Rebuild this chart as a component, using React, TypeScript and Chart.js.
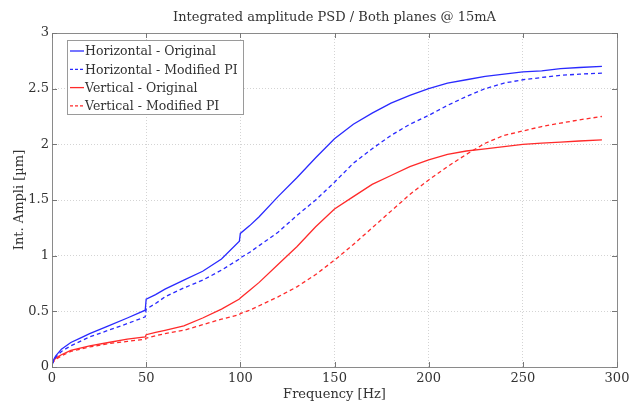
import React, { useEffect, useRef } from "react";
import { Chart, registerables } from "chart.js";

Chart.register(...registerables);

const TITLE = "Integrated amplitude PSD / Both planes @ 15mA";
const X_TITLE = "Frequency [Hz]";
const Y_TITLE = "Int. Ampli [µm]";

const labels = [
  "Horizontal - Original",
  "Horizontal - Modified PI",
  "Vertical - Original",
  "Vertical - Modified PI",
];

const freq = [
  0, 1, 2, 5, 10, 15, 20, 30, 40, 49.5, 50, 55, 60, 70, 80, 90, 99.5, 100, 105, 110,
  120, 130, 140, 150, 160, 170, 180, 190, 200, 210, 220, 230, 240, 250, 260, 270, 280, 292,
];

const hOrig = [
  0.02, 0.07, 0.1, 0.16, 0.22, 0.26, 0.3, 0.37, 0.44, 0.51, 0.61, 0.65, 0.7, 0.78, 0.86, 0.97, 1.13, 1.2, 1.27, 1.35,
  1.53, 1.7, 1.88, 2.05, 2.18, 2.28, 2.37, 2.44, 2.5, 2.55, 2.58, 2.61, 2.63, 2.65, 2.66, 2.68, 2.69, 2.7,
];

const hMod = [
  0.02, 0.06, 0.09, 0.14, 0.19, 0.23, 0.27, 0.33, 0.39, 0.45, 0.52, 0.57, 0.63, 0.71, 0.78, 0.87, 0.97, 0.98, 1.03, 1.09,
  1.21, 1.36, 1.5, 1.66, 1.83, 1.96, 2.08, 2.18, 2.26, 2.35, 2.43, 2.5, 2.55, 2.58, 2.6, 2.62, 2.63, 2.64,
];

const vOrig = [
  0.03, 0.06, 0.08, 0.11, 0.15, 0.17, 0.19, 0.22, 0.25, 0.27, 0.29, 0.31, 0.33, 0.37, 0.44, 0.52, 0.61, 0.62, 0.69, 0.76,
  0.92, 1.08, 1.26, 1.42, 1.53, 1.64, 1.72, 1.8, 1.86, 1.91, 1.94, 1.96, 1.98, 2.0, 2.01, 2.02, 2.03, 2.04,
];

const vMod = [
  0.03, 0.05, 0.07, 0.1, 0.14, 0.16, 0.18, 0.21, 0.23, 0.25, 0.26, 0.28, 0.3, 0.33, 0.38, 0.43, 0.47, 0.48, 0.51, 0.55,
  0.63, 0.72, 0.83, 0.96, 1.1, 1.25, 1.4, 1.55, 1.68, 1.8, 1.91, 2.01, 2.08, 2.12, 2.16, 2.19, 2.22, 2.25,
];

const BLUE = "#2a2aff";
const RED = "#ff2a2a";
const FONT_FAMILY = '"DejaVu Serif", serif';
const TEXT_COLOR = "#333333";

const seriesStyle = [
  { color: BLUE, dash: [] as number[] },
  { color: BLUE, dash: [4, 3] },
  { color: RED, dash: [] as number[] },
  { color: RED, dash: [4, 3] },
];

const overlayPlugin = {
  id: "overlay",
  afterDraw(chart: any) {
    const ctx = chart.ctx as CanvasRenderingContext2D;
    const a = chart.chartArea;
    const xs = chart.scales.x;
    const ys = chart.scales.y;
    ctx.save();
    // frame
    ctx.strokeStyle = "#8a8a8a";
    ctx.lineWidth = 1;
    ctx.setLineDash([]);
    ctx.strokeRect(Math.round(a.left) + 0.5, Math.round(a.top) + 0.5, Math.round(a.right - a.left), Math.round(a.bottom - a.top));
    // inward ticks
    ctx.strokeStyle = "#777777";
    const tl = 5;
    ctx.beginPath();
    xs.ticks.forEach((t: any) => {
      const px = Math.round(xs.getPixelForValue(t.value)) + 0.5;
      ctx.moveTo(px, a.bottom);
      ctx.lineTo(px, a.bottom - tl);
      ctx.moveTo(px, a.top);
      ctx.lineTo(px, a.top + tl);
    });
    ys.ticks.forEach((t: any) => {
      const py = Math.round(ys.getPixelForValue(t.value)) + 0.5;
      ctx.moveTo(a.left, py);
      ctx.lineTo(a.left + tl, py);
      ctx.moveTo(a.right, py);
      ctx.lineTo(a.right - tl, py);
    });
    ctx.stroke();

    // title
    ctx.fillStyle = TEXT_COLOR;
    ctx.font = `13px ${FONT_FAMILY}`;
    ctx.textAlign = "center";
    ctx.textBaseline = "alphabetic";
    ctx.fillText(TITLE, (a.left + a.right) / 2, 21);
    // x title
    ctx.fillText(X_TITLE, (a.left + a.right) / 2, 398);
    // y title
    ctx.save();
    ctx.translate(23, (a.top + a.bottom) / 2);
    ctx.rotate(-Math.PI / 2);
    ctx.fillText(Y_TITLE, 0, 0);
    ctx.restore();

    // legend
    const bx = 67, by = 40, bw = 176, bh = 74;
    ctx.fillStyle = "#ffffff";
    ctx.fillRect(bx, by, bw, bh);
    ctx.strokeStyle = "#9a9a9a";
    ctx.strokeRect(bx + 0.5, by + 0.5, bw, bh);
    ctx.font = `12.5px ${FONT_FAMILY}`;
    ctx.textAlign = "left";
    ctx.textBaseline = "middle";
    labels.forEach((lab, i) => {
      const cy = by + 11 + i * 18.3;
      ctx.strokeStyle = seriesStyle[i].color;
      ctx.lineWidth = 1.3;
      ctx.setLineDash(seriesStyle[i].dash.length ? [3, 2] : []);
      ctx.beginPath();
      ctx.moveTo(bx + 3, cy);
      ctx.lineTo(bx + 17, cy);
      ctx.stroke();
      ctx.setLineDash([]);
      ctx.fillStyle = TEXT_COLOR;
      ctx.fillText(lab, bx + 18, cy + 1);
    });
    ctx.restore();
  },
};

export default function App() {
  const ref = useRef<HTMLCanvasElement>(null);
  useEffect(() => {
    if (!ref.current) return;
    const series = [hOrig, hMod, vOrig, vMod];
    const chart = new Chart(ref.current, {
      type: "line",
      data: {
        datasets: series.map((ys, i) => ({
          label: labels[i],
          data: freq.map((x, j) => ({ x, y: ys[j] })),
          borderColor: seriesStyle[i].color,
          backgroundColor: seriesStyle[i].color,
          borderDash: seriesStyle[i].dash,
          borderWidth: 1.3,
          pointRadius: 0,
          tension: 0,
          fill: false,
        })),
      },
      options: {
        animation: false,
        responsive: false,
        maintainAspectRatio: false,
        layout: { padding: { top: 33, right: 18, left: 0, bottom: 0 } },
        plugins: {
          legend: { display: false },
          title: { display: false },
          tooltip: { enabled: false },
        },
        scales: {
          x: {
            type: "linear",
            min: 0,
            max: 300,
            ticks: {
              stepSize: 50,
              color: TEXT_COLOR,
              font: { family: FONT_FAMILY, size: 13 },
              padding: 4,
              maxRotation: 0,
            },
            grid: { color: "#d4d4d4", drawTicks: false, lineWidth: 1 },
            border: { display: false, dash: [1, 2] },
            afterFit: (s: any) => {
              s.height = 38;
            },
          },
          y: {
            type: "linear",
            min: 0,
            max: 3,
            ticks: {
              stepSize: 0.5,
              color: TEXT_COLOR,
              font: { family: FONT_FAMILY, size: 13 },
              padding: 3,
              callback: (v: any) => String(Number(v)),
            },
            grid: { color: "#d4d4d4", drawTicks: false, lineWidth: 1 },
            border: { display: false, dash: [1, 2] },
            afterFit: (s: any) => {
              s.width = 52;
            },
          },
        },
      },
      plugins: [overlayPlugin],
    });
    return () => chart.destroy();
  }, []);
  return (
    <div style={{ position: "fixed", left: 0, top: 0, width: 635, height: 405, background: "#ffffff" }}>
      <canvas ref={ref} width={635} height={405} style={{ display: "block" }} />
    </div>
  );
}
